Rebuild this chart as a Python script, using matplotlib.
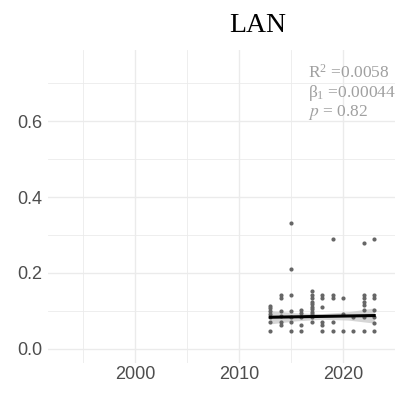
import numpy as np
import matplotlib
matplotlib.use("Agg")
import matplotlib.pyplot as plt

# ---- data ----
title = "LAN"
years = [2013]*7 + [2014]*6 + [2015]*7 + [2016]*5 + [2017]*11 + [2018]*6 + \
        [2019]*5 + [2020]*3 + [2021]*2 + [2022]*8 + [2023]*7
values = [0.113, 0.107, 0.101, 0.092, 0.083, 0.072, 0.046,
          0.142, 0.133, 0.101, 0.088, 0.072, 0.063,
          0.331, 0.210, 0.142, 0.101, 0.085, 0.072, 0.046,
          0.102, 0.094, 0.083, 0.063, 0.046,
          0.152, 0.142, 0.133, 0.124, 0.118, 0.111, 0.105, 0.098, 0.092, 0.085, 0.072,
          0.142, 0.133, 0.111, 0.072, 0.063, 0.046,
          0.290, 0.142, 0.133, 0.072, 0.046,
          0.133, 0.092, 0.046,
          0.083, 0.046,
          0.280, 0.142, 0.133, 0.124, 0.116, 0.102, 0.085, 0.046,
          0.290, 0.142, 0.133, 0.102, 0.085, 0.067, 0.046]
# fitted line and its confidence band
fit_years = [2013, 2015.5, 2018, 2020.5, 2023]
fit_values = [0.0835, 0.0846, 0.0857, 0.0868, 0.0879]
band_lower = [0.066, 0.074, 0.078, 0.076, 0.068]
band_upper = [0.101, 0.095, 0.093, 0.098, 0.108]
stats_lines = [r"$\mathregular{R^2}$ =0.0058", r"$\mathregular{β_1}$ =0.00044", r"$p$ = 0.82"]
x_ticks = [2000, 2010, 2020]
x_minor = [1995, 2005, 2015, 2025]
y_ticks = [0.0, 0.2, 0.4, 0.6]
y_minor = [0.1, 0.3, 0.5, 0.7]

plt.rcParams["mathtext.fontset"] = "stix"

fig = plt.figure(figsize=(3.98, 3.94), dpi=100)
ax = fig.add_axes([48/398, 1-363/394, 347/398, 313/394])

ax.set_xlim(1991.6, 2025.0)
ax.set_ylim(-0.037, 0.787)

grid_c = "#ebebeb"
for v in x_ticks:
    ax.axvline(v, color=grid_c, lw=1.0, zorder=0)
for v in x_minor:
    ax.axvline(v, color=grid_c, lw=0.6, zorder=0)
for v in y_ticks:
    ax.axhline(v, color=grid_c, lw=1.0, zorder=0)
for v in y_minor:
    ax.axhline(v, color=grid_c, lw=0.6, zorder=0)

ax.fill_between(fit_years, band_lower, band_upper, color="#cfcfcf", alpha=0.85, lw=0, zorder=1)
ax.scatter(years, values, s=9, color="#666666", lw=0, zorder=2)
ax.plot(fit_years, fit_values, color="black", lw=2.2, zorder=3)

for sp in ax.spines.values():
    sp.set_visible(False)
ax.set_xticks(x_ticks)
ax.set_xticklabels([str(v) for v in x_ticks])
ax.set_yticks(y_ticks)
ax.set_yticklabels([f"{v:.1f}" for v in y_ticks])
ax.tick_params(length=0, labelsize=13, colors="#4d4d4d")
ax.tick_params(axis="x", pad=2)
ax.tick_params(axis="y", pad=4)
for lab in ax.get_xticklabels() + ax.get_yticklabels():
    lab.set_fontfamily("Liberation Sans")

fig.text(258/398, 1-25/394, title, ha="center", va="center",
         fontsize=20, family="Liberation Serif", color="black")

baselines = [78, 97, 116]
for line, b in zip(stats_lines, baselines):
    fig.text(308/398, 1-b/394, line, ha="left", va="baseline",
             fontsize=12.5, family="Liberation Serif", color="#a0a0a0")

fig.savefig("out.png", dpi=100)
